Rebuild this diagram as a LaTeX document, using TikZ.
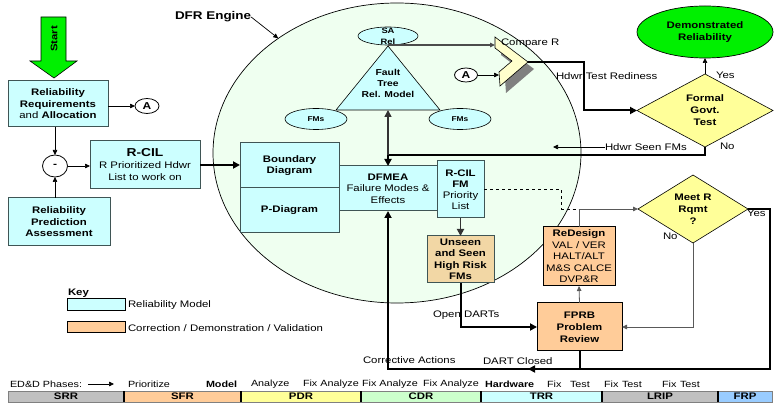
\documentclass[tikz,border=0pt]{standalone}
\usepackage{fontspec}
\setmainfont{Liberation Sans}[FakeStretch=1.2]
\usetikzlibrary{arrows.meta,shapes.geometric,calc}
\definecolor{cyanfill}{HTML}{CCFFFF}
\definecolor{enginefill}{HTML}{EFFFF0}
\definecolor{tanfill}{HTML}{F2D7A5}
\definecolor{orangefill}{HTML}{FFCC99}
\definecolor{yellowfill}{HTML}{FFFF99}
\definecolor{brightgreen}{HTML}{00F000}
\definecolor{boxline}{HTML}{3F5555}
\definecolor{chevfill}{HTML}{FFFFCC}
\definecolor{srrgray}{HTML}{C0C0C0}
\definecolor{cdrgreen}{HTML}{CCFFCC}
\definecolor{frpblue}{HTML}{99CCFF}
\newcommand\myfs[2]{\fontsize{#1}{#2}\selectfont}
\tikzset{
 relbox/.style={draw=boxline, line width=1pt, fill=cyanfill, align=center, font=\myfs{9.5}{11.5}\bfseries},
 corrbox/.style={draw=black, line width=1pt, fill=orangefill, align=center, font=\myfs{9.5}{12}\bfseries},
 smallell/.style={ellipse, draw=black, line width=0.6pt, fill=cyanfill, font=\myfs{7}{10}\bfseries, align=center},
 conn/.style={ellipse, draw=black, line width=0.8pt, fill=white, font=\myfs{10}{12}\bfseries},
 dec/.style={diamond, draw=black, line width=0.6pt, fill=yellowfill, align=center, font=\myfs{9.5}{12}\bfseries},
 arr/.style={-{Triangle[length=5pt,width=4.5pt]}},
 arrthick/.style={-{Triangle[length=7pt,width=7pt]}},
 thinline/.style={line width=0.7pt, draw=black},
 thickline/.style={line width=2pt, draw=black},
 grayline/.style={line width=0.8pt, draw=black!65},
 lbl/.style={font=\myfs{9.5}{11.5}, anchor=west},
 lblb/.style={font=\myfs{9.5}{11.5}\bfseries, anchor=west},
 phl/.style={font=\myfs{9}{11}, anchor=west},
 phlb/.style={font=\myfs{9}{11}\bfseries, anchor=west},
 barseg/.style={fill=#1, draw=black!50, line width=0.6pt, minimum height=11pt, font=\myfs{9.5}{11}\bfseries},
}
\begin{document}
\begin{tikzpicture}[x=1pt,y=-1pt, every node/.style={inner sep=0pt, outer sep=0pt}]
\useasboundingbox (0,0) rectangle (774,403);
\fill[white] (0,0) rectangle (774,403);

% engine
\node[ellipse, draw=black, line width=0.7pt, fill=enginefill, minimum width=368pt, minimum height=300pt] (eng) at (397,153) {};
\node[anchor=west, font=\myfs{11.2}{13}\bfseries] (dfr) at (175,17) {DFR Engine};
\draw[thinline, arr] (dfr.east) -- (eng.136);

% start arrow
\draw[fill=brightgreen, line width=0.6pt] (41,17) -- (66,17) -- (66,61) -- (77,61) -- (54,78) -- (30,61) -- (41,61) -- cycle;
\node[rotate=90, font=\myfs{9.5}{11}\bfseries] (start) at (54,39) {Start};

% left column
\node[relbox, minimum width=100pt, minimum height=46pt] (req) at (58,104) {Reliability\\Requirements\\{\mdseries and} Allocation};
\node[conn, minimum width=24pt, minimum height=15pt] (A1) at (147,106) {A};
\node[ellipse, draw=black, line width=0.8pt, fill=white, minimum width=25pt, minimum height=22pt, font=\myfs{10}{12}\bfseries] (minus) at (55,166) {-};
\node[relbox, minimum width=102pt, minimum height=48pt] (pred) at (59,222) {Reliability\\Prediction\\Assessment};
\node[relbox, minimum width=110pt, minimum height=48pt, font=\myfs{9.5}{12}] (rcil) at (145,165) {{\myfs{11.5}{14}\bfseries R-CIL}\\R Prioritized Hdwr\\List to work on};

\draw[thinline, arr] (req.east |- A1.west) -- (A1.west);
\draw[thinline, arr] (minus.north |- req.south) -- (minus.north);
\draw[thinline, arr] (minus.south |- pred.north) -- (minus.south);
\draw[thinline, arr] (minus.east) -- (rcil.west |- minus.east);

% engine contents
\coordinate (trapex) at (388,46);
\coordinate (trbase) at (388,110);
\draw[fill=cyanfill, line width=0.6pt] (trapex) -- (440,110) -- (336,110) -- cycle;
\node[align=center, font=\myfs{8.6}{11}\bfseries] (trtext) at (388,83) {Fault\\Tree\\Rel. Model};
\node[smallell, minimum width=60pt, minimum height=18pt] (sarel) at (388,36) {};
\node[align=center, font=\myfs{7.8}{11}\bfseries] (sareltext) at (388,36) {SA\\Rel};
\node[smallell, minimum width=62pt, minimum height=21pt] (fm1) at (316,119) {FMs};
\node[smallell, minimum width=62pt, minimum height=21pt] (fm2) at (460,119) {FMs};

\node[relbox, minimum width=99pt, minimum height=45pt] (bd) at (289.5,165.5) {Boundary\\Diagram};
\node[relbox, minimum width=99pt, minimum height=45pt] (pd) at (289.5,210.5) {P-Diagram};
\node[relbox, minimum width=98pt, minimum height=45pt, font=\myfs{9.5}{11.5}] (dfmea) at (388,188.5) {\textbf{DFMEA}\\Failure Modes \&\\Effects};
\node[relbox, minimum width=47pt, minimum height=57pt, font=\myfs{9.5}{11}] (rcilfm) at (460.5,189.5) {\textbf{R-CIL}\\\textbf{FM}\\Priority\\List};
\node[draw=boxline, line width=1pt, fill=tanfill, align=center, font=\myfs{9.5}{11.5}\bfseries, minimum width=67pt, minimum height=47pt] (unseen) at (460.5,259.5) {Unseen\\and Seen\\High Risk\\FMs};

\draw[thickline, arrthick] (rcil.east) -- (bd.west |- rcil.east);

% chevron
\coordinate (cv1) at (495,37);
\coordinate (cvtip) at (528,62);
\coordinate (cv3) at (500,86);
\coordinate (cv4) at (499,72);
\coordinate (cv5) at (512,61);
\coordinate (cv6) at (495,48);
\fill[black!50] (501,44) -- (534,69) -- (506,93) -- (505,79) -- (518,68) -- (501,55) -- cycle;
\draw[fill=chevfill, line width=0.6pt] (cv1) -- (cvtip) -- (cv3) -- (cv4) -- (cv5) -- (cv6) -- cycle;
\node[lbl] (cmp) at (501,43) {Compare R};
\draw[line width=1.4pt, draw=black!70, arr] (sarel.south) -- (sarel.south -| cv1);
\node[conn, minimum width=23pt, minimum height=14pt] (A2) at (466,75) {A};
\draw[thinline, arr] (A2.east) -- (A2.east -| cv4);

% right side
\node[ellipse, draw=black, line width=0.7pt, fill=brightgreen, minimum width=136pt, minimum height=52pt, align=center, font=\myfs{9.5}{12}\bfseries] (demo) at (705,32) {Demonstrated\\Reliability};
\node[dec, minimum width=136pt, minimum height=73pt, aspect=1.8] (formal) at (705,110.5) {Formal\\Govt.\\Test};
\draw[thickline, arrthick] (cvtip) -- ++(56,0) |- (formal.west);
\node[lbl] (htr) at (556,76) {Hdwr Test Rediness};
\draw[thinline, arr] (formal.north) -- (demo.south);
\node[lbl] (yes1) at (716,75) {Yes};
\node[lbl] (no1) at (720,146) {No};

\coordinate (j1) at (388,155);
\draw[thickline, arrthick] (formal.south) |- (j1) -- (dfmea.north);
\draw[line width=1.6pt, draw=black!80, arrthick] (j1) -- (trbase);
\node[lbl] (hsf) at (605,147) {Hdwr Seen FMs};
\draw[thinline, arr] (hsf.west) -- ++(-52,0);

% correction loop
\node[corrbox, minimum width=85pt, minimum height=48pt] (fprb) at (579.5,327) {FPRB\\Problem\\Review};
\node[corrbox, minimum width=72pt, minimum height=59pt, font=\myfs{9.5}{11.5}] (redesign) at (579,256.5) {\textbf{ReDesign}\\VAL / VER\\HALT/ALT\\M\&S CALCE\\DVP\&R};
\node[dec, minimum width=110pt, minimum height=68pt, aspect=1.6] (meet) at (693,209) {Meet R\\Rqmt\\?};

\draw[line width=1.8pt, draw=black!80, arrthick] (rcilfm.south) -- (unseen.north);
\coordinate (j3) at (561,209);
\draw[thinline, dashed] (rcilfm.east) -| (j3) -- (redesign.north |- j3);
\draw[grayline, arr] (redesign.north) |- (meet.west);
\draw[grayline, arr] (fprb.north) -- (redesign.south);
\draw[grayline, arr] (meet.south) |- (fprb.east);
\node[lbl] (no2) at (663,236) {No};
\node[lbl] (yes2) at (747,213) {Yes};

\draw[thickline, arrthick] (unseen.south) |- (fprb.west);
\node[lbl] (od) at (433,315) {Open DARTs};

\coordinate (j4) at (770,369);
\draw[thickline, arrthick] (meet.east) -| (j4) -| (dfmea.south);
\draw[thickline] (fprb.south) -- (fprb.south |- j4);
\coordinate (dc) at (528,369);
\draw[thickline, arrthick] ([xshift=10pt]dc) -- (dc);
\node[lbl] (ca) at (363,360) {Corrective Actions};
\node[lbl] (dcl) at (483,361) {DART Closed};

% key
\node[lblb] (key) at (68,293) {Key};
\node[draw=black, line width=1pt, fill=cyanfill, minimum width=58pt, minimum height=12pt] (k1) at (96,305) {};
\node[lbl] (k1t) at (128,305) {Reliability Model};
\node[draw=black, line width=1pt, fill=orangefill, minimum width=58pt, minimum height=11pt] (k2) at (96,327.5) {};
\node[lbl] (k2t) at (128,328) {Correction / Demonstration / Validation};

% phases
\node[phl] (edd) at (10,384) {ED\&D Phases:};
\draw[thinline, arr] ([xshift=6pt]edd.east) -- ([xshift=32pt]edd.east);
\node[phl] (p1) at (128,384) {Prioritize};
\node[phlb] (p2) at (206,384) {Model};
\node[phl] (p3) at (251,384) {Analyze};
\node[phl] (p4) at (303,384) {Fix Analyze};
\node[phl] (p5) at (362,384) {Fix Analyze};
\node[phl] (p6) at (423,384) {Fix Analyze};
\node[phlb] (p10) at (485,384) {Hardware};
\node[phl] (p11) at (547,384) {Fix};
\node[phl] (p12) at (570,384) {Test};
\node[phl] (p13) at (604,384) {Fix};
\node[phl] (p14) at (622,384) {Test};
\node[phl] (p15) at (662,384) {Fix};
\node[phl] (p16) at (680,384) {Test};

\node[barseg=srrgray, minimum width=116pt] (srr) at (66,396.5) {SRR};
\node[barseg=orangefill, minimum width=117pt] (sfr) at (182.5,396.5) {SFR};
\node[barseg=yellowfill, minimum width=120pt] (pdr) at (301,396.5) {PDR};
\node[barseg=cdrgreen, minimum width=120pt] (cdr) at (421,396.5) {CDR};
\node[barseg=cyanfill, minimum width=121pt] (trr) at (541.5,396.5) {TRR};
\node[barseg=srrgray, minimum width=116pt] (lrip) at (660,396.5) {LRIP};
\node[barseg=frpblue, minimum width=54pt] (frp) at (745,396.5) {FRP};
\foreach \s in {srr,sfr,pdr,cdr,trr,lrip}
  \draw[line width=1.2pt] (\s.north east) -- (\s.south east);
\end{tikzpicture}
\end{document}
